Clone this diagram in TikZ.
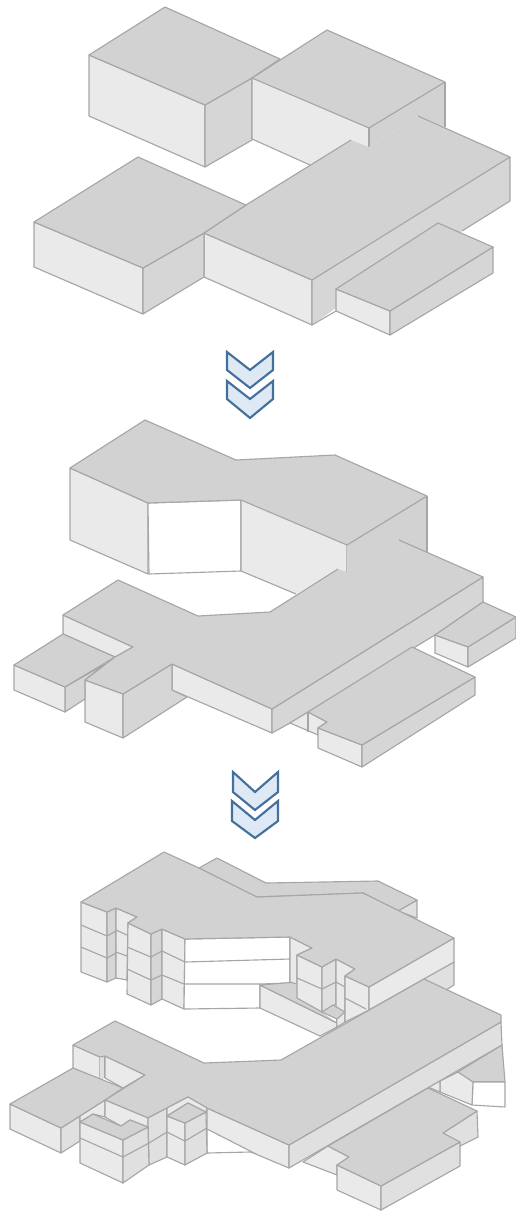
\documentclass[tikz,border=0pt]{standalone}
\tikzset{
 x=0.75pt,y=-0.75pt,
 every path/.style={line join=round},
 faceT/.style={fill=topc,draw=edgec,line width=0.85pt},
 faceF/.style={fill=frontc,draw=edgec,line width=0.85pt},
 faceS/.style={fill=sidec,draw=edgec,line width=0.85pt},
 faceL/.style={fill=sidel,draw=edgec,line width=0.85pt},
 faceW/.style={fill=white,draw=edgec,line width=0.85pt},
 seam/.style={draw=edgec,line width=0.85pt},
 chev/.style={fill=chevf,draw=chevd,line width=1.6pt,line join=miter},
}
\definecolor{topc}{HTML}{D2D2D2}
\definecolor{frontc}{HTML}{EAEAEA}
\definecolor{sidec}{HTML}{D6D6D6}
\definecolor{sidel}{HTML}{E0E0E0}
\definecolor{edgec}{HTML}{A6A6A6}
\definecolor{chevf}{HTML}{DEE9F5}
\definecolor{chevd}{HTML}{44709E}
\begin{document}
\begin{tikzpicture}
\useasboundingbox (0,0) rectangle (516,1211);
% ---------- stage 1 ----------
\draw[faceF] (89,55)--(205,105)--(205,167)--(89,116)--cycle;
\draw[faceS] (205,105)--(252,78)--(252,140)--(205,167)--cycle;
\draw[faceT] (89,55)--(165,7)--(280,59)--(252,78)--(205,105)--cycle;
\fill[frontc] (252,78)--(369,128)--(369,147)--(351,140)--(310,165)--(252,139)--cycle;
\draw[seam] (252,78)--(252,139)--(310,165);
\fill[topc] (369,128)--(445,82)--(445,127)--(418,116)--(369,147)--cycle;
\draw[seam] (369,128)--(369,147) (445,82)--(445,127);
\draw[faceT] (252,78)--(327,30)--(445,82)--(369,128)--cycle;
\draw[faceF] (204,233)--(312,280)--(312,325)--(204,277)--cycle;
\fill[sidec] (312,280)--(510,157)--(510,201)--(462,231)--(336,308)--(312,325)--cycle;
\draw[seam] (312,280)--(312,325)--(336,311);
\draw[seam] (510,157)--(510,201)--(462,231);
\fill[topc] (204,233)--(246,205)--(351,140)--(369,147)--(418,116)--(510,157)--(312,280)--cycle;
\draw[seam] (418,116)--(510,157)--(312,280)--(204,233)--(246,205)--(351,140);
\draw[faceF] (34,222)--(143,268)--(143,314)--(34,267)--cycle;
\draw[faceS] (143,268)--(204,233)--(204,277)--(143,314)--cycle;
\draw[faceT] (34,222)--(138,157)--(246,205)--(204,233)--(143,268)--cycle;
\draw[faceF] (336,289)--(390,311)--(390,335)--(336,311)--cycle;
\draw[faceS] (390,311)--(493,247)--(493,273)--(390,335)--cycle;
\draw[faceT] (336,289)--(438,223)--(493,247)--(390,311)--cycle;
% chevrons 1
\draw[chev] (227,352)--(250,370)--(273,352)--(273,370)--(250,388)--(227,370)--cycle;
\draw[chev] (227,381)--(250,399)--(273,381)--(273,399)--(250,418)--(227,399)--cycle;
% ---------- stage 2 ----------
\draw[faceF] (70,468)--(148,503)--(148,574)--(70,540)--cycle;
\draw[faceW] (148,503)--(241,500)--(241,571)--(149,574)--cycle;
\fill[frontc] (241,500)--(347,545)--(347,572)--(338,569)--(296,594)--(241,571)--cycle;
\draw[seam] (241,500)--(241,571)--(296,594) (347,545)--(347,572);
\fill[topc] (347,545)--(427,496)--(427,552)--(399,540)--(347,572)--cycle;
\draw[seam] (427,496)--(427,552);
\draw[faceT] (70,468)--(145,420)--(236,460)--(335,455)--(427,496)--(347,545)--(241,500)--(148,503)--cycle;
\draw[faceF] (172,664)--(272,709)--(272,733)--(172,690)--cycle;
\draw[faceS] (272,709)--(483,577)--(483,602)--(435,635)--(290,723)--(272,733)--cycle;
\draw[faceF] (85,680)--(123,694)--(123,738)--(85,722)--cycle;
\draw[faceS] (123,694)--(172,664)--(172,690)--(187,697)--(123,738)--cycle;
\draw[faceF] (63,615)--(133,647)--(115,657)--(63,634)--cycle;
\draw[faceS] (65,687)--(105,664)--(85,680)--(85,699)--(65,712)--cycle;
\draw[faceF] (14,665)--(65,687)--(65,712)--(14,690)--cycle;
\draw[faceT] (14,665)--(63,634)--(115,657)--(65,687)--cycle;
\fill[topc] (63,615)--(118,580)--(198,616)--(270,612)--(338,569)--(347,572)--(399,540)--(483,577)--(272,709)--(172,664)--(123,694)--(85,680)--(115,657)--(133,647)--cycle;
\draw[seam] (399,540)--(483,577)--(272,709)--(172,664)--(123,694)--(85,680)--(115,657)--(133,647)--(63,615)--(118,580)--(198,616)--(270,612)--(338,569);
\draw[faceF] (290,723)--(308,712)--(327,722)--(318,728)--(318,735)--cycle;
\draw[seam] (308,712)--(308,732);
\draw[faceF] (435,635)--(468,647)--(468,667)--(435,653)--cycle;
\draw[faceS] (468,647)--(516,617)--(516,638)--(468,667)--cycle;
\draw[faceT] (435,635)--(483,602)--(516,617)--(468,647)--cycle;
\draw[faceF] (318,728)--(362,745)--(362,767)--(318,748)--cycle;
\draw[faceS] (362,745)--(475,677)--(475,695)--(362,767)--cycle;
\draw[faceT] (318,728)--(327,722)--(308,712)--(412,647)--(475,677)--(362,745)--cycle;
% chevrons 2
\draw[chev] (233,772)--(255,792)--(278,772)--(278,792)--(255,810)--(233,792)--cycle;
\draw[chev] (232,801)--(255,820)--(278,801)--(278,821)--(255,838)--(232,821)--cycle;
% ---------- stage 3 ----------
% back slab
\draw[faceL] (398,911)--(417,900)--(417,918)--cycle;
\draw[faceT] (199,868)--(217,858)--(266,883)--(378,881)--(417,900)--(398,911)--(363,893)--(256,897)--cycle;
% upper building walls
\draw[faceF] (81,902)--(107,912)--(107,982)--(81,972)--cycle;
\draw[faceS] (107,912)--(116,908)--(116,978)--(107,982)--cycle;
\draw[faceF] (116,908)--(137,917)--(128,923)--(127,980)--(116,978)--cycle;
\draw[faceF] (128,923)--(151,934)--(151,1005)--(127,994)--cycle;
\draw[faceS] (151,934)--(162,929)--(162,999)--(151,1005)--cycle;
\draw[faceF] (162,929)--(185,939)--(184,1009)--(162,999)--cycle;
\draw[seam] (81,925)--(107,936)--(116,931) (81,947)--(107,958)--(116,953);
\draw[seam] (116,930)--(127,935) (116,952)--(127,956);
\draw[seam] (127,947)--(151,957)--(162,951)--(185,962);
\draw[seam] (127,969)--(151,980)--(162,975)--(184,984);
\draw[faceW] (185,939)--(290,937)--(290,983)--(260,984)--(260,1008)--(184,1009)--cycle;
\draw[seam] (185,962)--(290,959) (184,984)--(260,984);
% courtyard slab
\draw[faceF] (260,985)--(337,1023)--(337,1027)--(320,1036)--(260,1008)--cycle;
\fill[topc] (260,985)--(297,982)--(322,1012)--(337,1023)--cycle;
\draw[seam] (260,985)--(297,982) (260,985)--(337,1023);
\draw[faceF] (290,937)--(312,948)--(297,955)--(297,984)--(290,982)--cycle;
% column right
\draw[faceF] (297,955)--(322,967)--(322,1012)--(297,998)--cycle;
\draw[faceL] (322,967)--(336,959)--(336,1004)--(322,1012)--cycle;
\draw[seam] (297,978)--(322,989)--(336,982);
\draw[faceF] (336,959)--(355,969)--(345,976)--(345,1022)--(337,1027)--(336,1004)--cycle;
\draw[seam] (336,982)--(345,987);
\draw[faceT] (322,1012)--(333,1005)--(345,1012)--(337,1019)--cycle;
\draw[faceF] (345,976)--(369,987)--(369,1010)--(345,1022)--cycle;
\draw[seam] (345,998)--(366,1009);
% right lower floor of upper building
\draw[faceL] (424,978)--(454,962)--(454,985)--(430,1000)--cycle;
\draw[faceF] (369,987)--(454,938)--(454,962)--(369,1010)--cycle;
% upper roof
\draw[faceT] (81,902)--(164,852)--(199,868)--(257,897)--(363,893)--(454,938)--(369,987)--(345,976)--(355,969)--(336,959)--(322,967)--(297,955)--(312,948)--(290,937)--(185,939)--(162,929)--(151,934)--(128,923)--(137,917)--(116,908)--(107,912)--cycle;
% lower right under plate
\draw[faceT] (502,1045)--(505,1082)--(473,1082)--(456,1073)--cycle;
\draw[faceW] (473,1082)--(505,1082)--(505,1107)--(472,1105)--cycle;
\draw[faceF] (440,1081)--(458,1072)--(473,1082)--(472,1105)--(440,1092)--cycle;
\draw[faceF] (428,1087)--(440,1081)--(440,1092)--cycle;
% connector front
\draw[faceF] (303,1162)--(328,1146)--(349,1157)--(337,1165)--(337,1175)--cycle;
% lower plate faces
\draw[faceW] (207,1128)--(230,1140)--(260,1155)--(250,1152)--(207,1153)--cycle;
\draw[faceF] (207,1108)--(289,1145)--(289,1168)--(258,1155)--(207,1129)--cycle;
\draw[faceL] (289,1145)--(501,1022)--(502,1045)--(289,1168)--cycle;
\draw[faceF] (73,1045)--(100,1057)--(100,1080)--(73,1068)--cycle;
\fill[sidel] (100,1057)--(105,1056)--(105,1078)--(100,1080)--cycle;
\draw[seam] (105,1056)--(105,1078);
\draw[faceF] (105,1056)--(145,1075)--(123,1088)--(105,1078)--cycle;
% lower plate top
\draw[faceT] (73,1045)--(115,1021)--(204,1063)--(256,1061)--(281,1060)--(424,979)--(501,1015)--(501,1022)--(289,1145)--(207,1108)--(188,1097)--(167,1108)--(148,1118)--(105,1100)--(145,1075)--(105,1056)--(100,1057)--cycle;
% left block
\draw[faceF] (10,1104)--(61,1128)--(61,1153)--(10,1129)--cycle;
\draw[faceL] (61,1128)--(80,1116)--(80,1141)--(61,1153)--cycle;
\draw[faceF] (80,1116)--(105,1100)--(105,1117)--(93,1114)--(80,1122)--cycle;
\draw[faceT] (10,1104)--(73,1068)--(123,1088)--(105,1100)--(61,1128)--cycle;
% small wall
\draw[faceF] (105,1100)--(148,1118)--(148,1127)--(130,1120)--(121,1126)--(105,1117)--cycle;
% side wall between L block and column
\draw[faceL] (148,1118)--(167,1108)--(167,1157)--(149,1165)--cycle;
\draw[seam] (149,1143)--(167,1132);
% L block
\draw[faceF] (80,1122)--(123,1140)--(123,1183)--(80,1163)--cycle;
\draw[faceL] (123,1140)--(148,1127)--(149,1165)--(123,1183)--cycle;
\draw[seam] (80,1138)--(123,1157)--(149,1143);
\draw[faceT] (80,1122)--(93,1114)--(121,1126)--(130,1120)--(148,1127)--(123,1140)--cycle;
% small column
\draw[faceF] (167,1108)--(188,1097)--(207,1108)--(206,1112)--(188,1103)--(167,1116)--cycle;
\draw[faceF] (167,1116)--(185,1123)--(185,1165)--(167,1157)--cycle;
\draw[faceL] (185,1123)--(206,1112)--(207,1153)--(185,1165)--cycle;
\draw[seam] (167,1132)--(185,1141)--(207,1128);
\draw[faceT] (167,1116)--(188,1103)--(206,1112)--(185,1123)--cycle;
% bottom-right block
\draw[faceL] (443,1133)--(477,1111)--(478,1137)--(460,1146)--cycle;
\draw[faceF] (337,1165)--(381,1186)--(381,1210)--(337,1190)--cycle;
\draw[faceL] (381,1186)--(460,1142)--(460,1166)--(381,1210)--cycle;
\draw[faceT] (337,1165)--(349,1157)--(328,1146)--(428,1088)--(477,1111)--(443,1133)--(460,1142)--(381,1186)--cycle;
\end{tikzpicture}
\end{document}
